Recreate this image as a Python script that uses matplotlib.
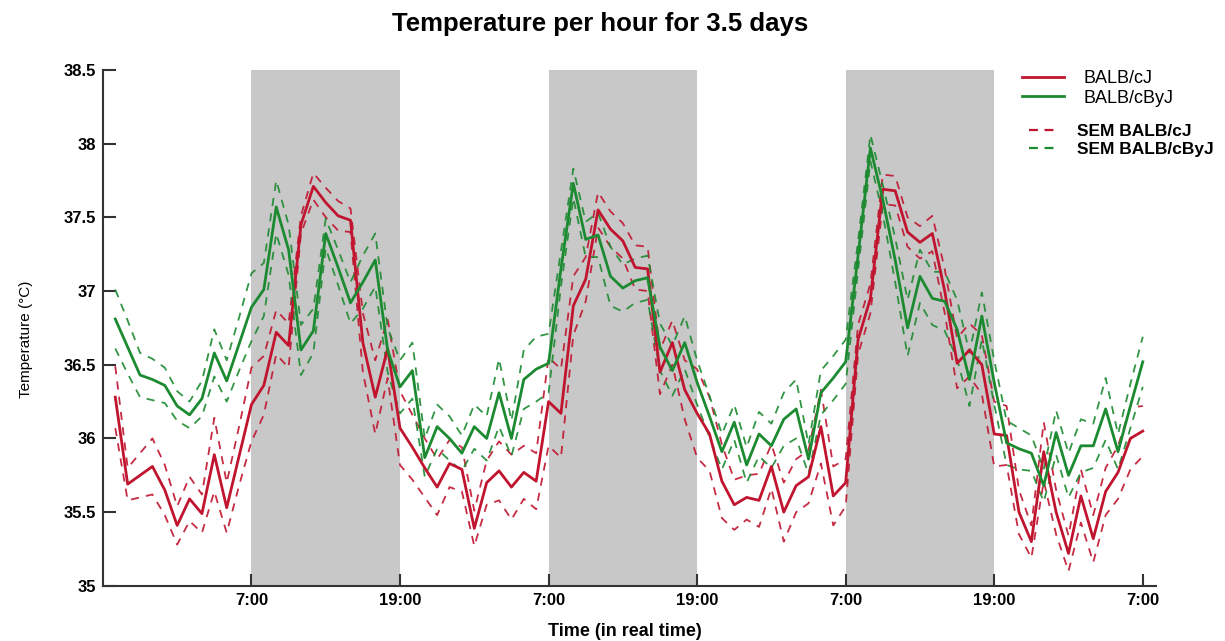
# Temperature per hour for 3.5 days, two mouse strains with SEM bands

import numpy as np
import matplotlib.pyplot as plt

# hours since 19:00 of the first evening
hours = np.arange(1, 85)

# mean body temperature per hour (deg C)
balb_cj = [36.28, 35.69, 35.75, 35.81, 35.65, 35.41, 35.59, 35.49, 35.89, 35.53, 35.88, 36.23, 36.36, 36.72,
           36.63, 37.45, 37.71, 37.60, 37.51, 37.48, 36.65, 36.28, 36.61, 36.07, 35.94, 35.80, 35.67, 35.83,
           35.79, 35.39, 35.70, 35.78, 35.67, 35.77, 35.71, 36.25, 36.17, 36.90, 37.08, 37.55, 37.42,
           37.34, 37.16, 37.15, 36.45, 36.65, 36.33, 36.17, 36.03, 35.71, 35.55, 35.60, 35.58, 35.81, 35.50,
           35.68, 35.74, 36.08, 35.61, 35.70, 36.67, 36.95, 37.69, 37.68, 37.40, 37.33, 37.39, 37.00, 36.51,
           36.60, 36.50, 36.03, 36.02, 35.50, 35.30, 35.91, 35.50, 35.22, 35.61, 35.32, 35.64, 35.77, 36.00, 36.05]

balb_cbyj = [36.81, 36.62, 36.43, 36.40, 36.36, 36.22, 36.16, 36.27, 36.58, 36.39, 36.64, 36.89, 37.01, 37.57,
             37.28, 36.60, 36.73, 37.39, 37.16, 36.92, 37.06, 37.21, 36.60, 36.35, 36.46, 35.87, 36.08, 36.00,
             35.90, 36.08, 36.00, 36.31, 36.00, 36.40, 36.47, 36.51, 37.15, 37.73, 37.35, 37.38, 37.10,
             37.02, 37.07, 37.09, 36.62, 36.46, 36.65, 36.38, 36.15, 35.91, 36.11, 35.82, 36.03, 35.95, 36.13,
             36.20, 35.86, 36.31, 36.41, 36.52, 37.24, 37.97, 37.62, 37.21, 36.75, 37.10, 36.95, 36.93, 36.74,
             36.40, 36.83, 36.38, 35.97, 35.93, 35.90, 35.68, 36.04, 35.75, 35.95, 35.95, 36.20, 35.91, 36.22, 36.52]

# standard error of the mean per hour
sem_cj = [0.21, 0.11, 0.15, 0.19, 0.17, 0.13, 0.15, 0.13, 0.25, 0.17, 0.20, 0.25, 0.20, 0.15,
          0.15, 0.06, 0.09, 0.10, 0.10, 0.08, 0.20, 0.25, 0.20, 0.25, 0.22, 0.20, 0.19, 0.16,
          0.15, 0.12, 0.15, 0.20, 0.22, 0.18, 0.19, 0.30, 0.30, 0.20, 0.15, 0.12, 0.12,
          0.12, 0.15, 0.15, 0.15, 0.15, 0.20, 0.30, 0.25, 0.25, 0.17, 0.15, 0.18, 0.15, 0.20,
          0.18, 0.18, 0.25, 0.20, 0.16, 0.10, 0.10, 0.10, 0.10, 0.10, 0.11, 0.12, 0.15, 0.17,
          0.18, 0.20, 0.22, 0.20, 0.15, 0.11, 0.20, 0.15, 0.12, 0.18, 0.16, 0.16, 0.18, 0.21, 0.17]

sem_cbyj = [0.20, 0.18, 0.15, 0.14, 0.12, 0.10, 0.09, 0.12, 0.16, 0.14, 0.18, 0.23, 0.18, 0.18,
            0.17, 0.17, 0.15, 0.10, 0.12, 0.14, 0.18, 0.18, 0.15, 0.18, 0.19, 0.13, 0.15, 0.15,
            0.12, 0.15, 0.15, 0.23, 0.12, 0.20, 0.22, 0.20, 0.12, 0.10, 0.12, 0.15, 0.20,
            0.16, 0.15, 0.15, 0.16, 0.17, 0.18, 0.15, 0.14, 0.12, 0.12, 0.12, 0.15, 0.15, 0.18,
            0.20, 0.10, 0.15, 0.15, 0.15, 0.10, 0.09, 0.10, 0.15, 0.19, 0.18, 0.18, 0.20, 0.20,
            0.18, 0.16, 0.15, 0.15, 0.14, 0.12, 0.11, 0.15, 0.15, 0.18, 0.15, 0.21, 0.12, 0.15, 0.17]

# dark phases (start, end) in hours
dark_phases = [(12, 24), (36, 48), (60, 72)]

tick_hours = [12, 24, 36, 48, 60, 72, 84]
tick_labels = ['7:00', '19:00', '7:00', '19:00', '7:00', '19:00', '7:00']
y_ticks = [35, 35.5, 36, 36.5, 37, 37.5, 38, 38.5]
y_labels = ['35', '35.5', '36', '36.5', '37', '37.5', '38', '38.5']

red = '#c0142f'
green = '#1c8a30'
font = ['Liberation Sans', 'DejaVu Sans']

fig = plt.figure(figsize=(12.25, 6.41), dpi=100)
ax = fig.add_axes([0.084, 0.086, 0.86, 0.805])

# grey boxes for the dark phases
for start, end in dark_phases:
    ax.axvspan(start, end, color='#c8c8c8', lw=0, zorder=0)

# SEM bands as dashed lines
cj = np.array(balb_cj)
cbyj = np.array(balb_cbyj)
for mean, sem, col in [(cj, np.array(sem_cj), red), (cbyj, np.array(sem_cbyj), green)]:
    ax.plot(hours, mean + sem, color=col, lw=1.3, dashes=(4.5, 4), alpha=0.9, zorder=2)
    ax.plot(hours, mean - sem, color=col, lw=1.3, dashes=(4.5, 4), alpha=0.9, zorder=2)

# mean lines
l1, = ax.plot(hours, cj, color=red, lw=2.0, zorder=3)
l2, = ax.plot(hours, cbyj, color=green, lw=2.0, zorder=3)

ax.set_xlim(0, 85.1)
ax.set_ylim(35, 38.5)
ax.set_xticks(tick_hours)
ax.set_xticklabels(tick_labels, family=font, fontweight='bold', fontsize=12)
ax.set_yticks(y_ticks)
ax.set_yticklabels(y_labels, family=font, fontweight='bold', fontsize=12)
ax.tick_params(direction='in', length=9, width=1.5, color='#333333', pad=5)
ax.tick_params(axis='x', pad=5)

ax.spines['top'].set_visible(False)
ax.spines['right'].set_visible(False)
for s in ['left', 'bottom']:
    ax.spines[s].set_linewidth(1.5)
    ax.spines[s].set_color('#333333')

ax.set_ylabel('Temperature (°C)', family=font, fontsize=11)
ax.yaxis.set_label_coords(-0.066, 0.477)
ax.set_xlabel('Time (in real time)', family=font, fontweight='bold', fontsize=13)
ax.xaxis.set_label_coords(0.495, -0.071)
fig.suptitle('Temperature per hour for 3.5 days', fontweight='bold', fontsize=18.5,
             family=font, x=0.49, y=0.982)

# two legends, the SEM one sits a bit lower
leg1 = ax.legend([l1, l2], ['BALB/cJ', 'BALB/cByJ'], loc='upper left',
                 bbox_to_anchor=(0.827, 0.905), bbox_transform=fig.transFigure,
                 frameon=False, handlelength=2.3, handletextpad=1.1, borderpad=0,
                 labelspacing=0.15, prop={'family': font, 'size': 13})
ax.add_artist(leg1)
d1, = ax.plot([], [], color=red, lw=1.6, dashes=(4, 3))
d2, = ax.plot([], [], color=green, lw=1.6, dashes=(4, 3))
ax.legend([d1, d2], ['SEM BALB/cJ', 'SEM BALB/cByJ'], loc='upper left',
          bbox_to_anchor=(0.833, 0.82), bbox_transform=fig.transFigure,
          frameon=False, handlelength=1.7, handletextpad=1.05, borderpad=0,
          labelspacing=0.15, prop={'family': font, 'size': 12.5, 'weight': 'bold'})

plt.savefig('out.png', dpi=100)
